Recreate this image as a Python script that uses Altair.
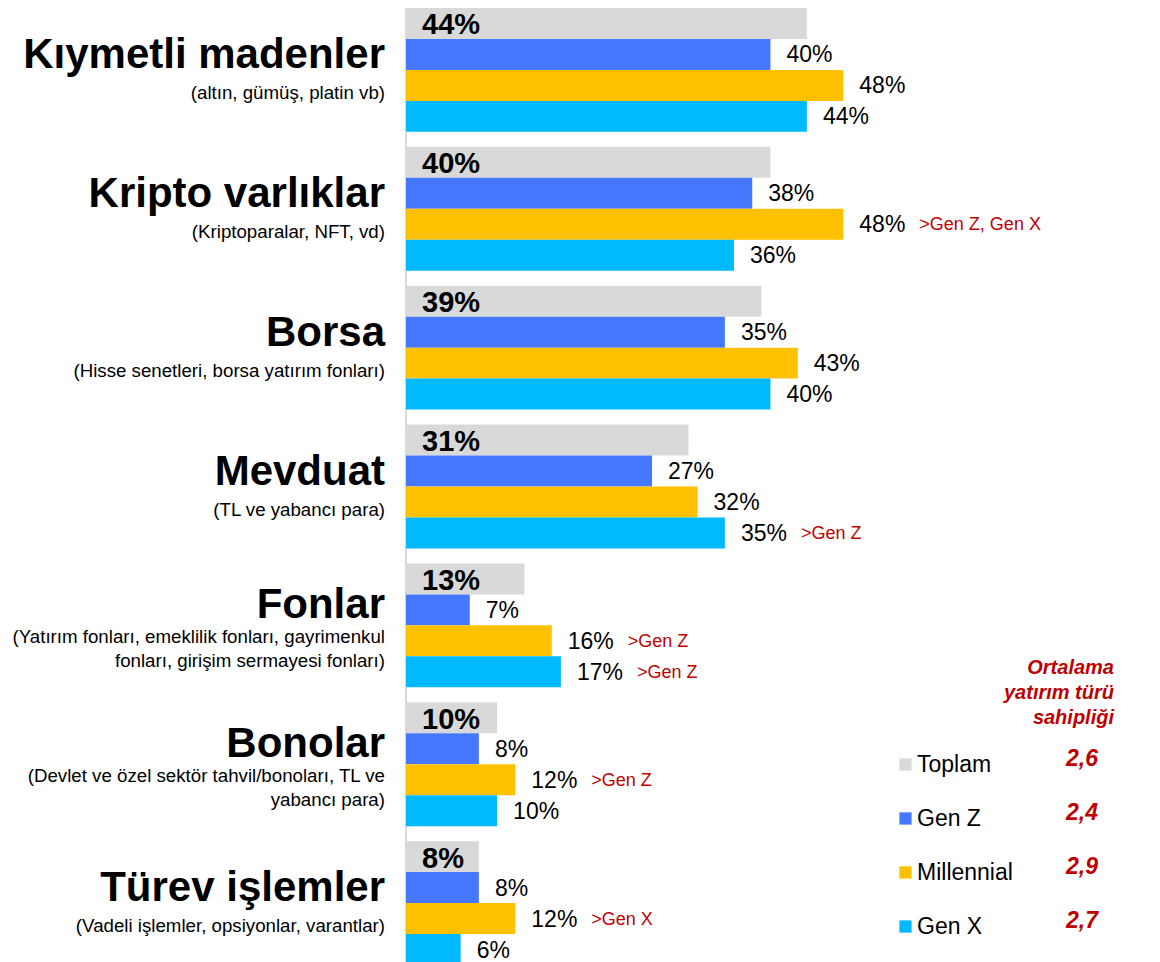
import altair as alt
import pandas as pd

# ---------------- data ----------------
categories = ["Kıymetli madenler", "Kripto varlıklar", "Borsa", "Mevduat",
              "Fonlar", "Bonolar", "Türev işlemler"]
subtitles = ["(altın, gümüş, platin vb)",
             "(Kriptoparalar, NFT, vd)",
             "(Hisse senetleri, borsa yatırım fonları)",
             "(TL ve yabancı para)",
             "(Yatırım fonları, emeklilik fonları, gayrimenkul\nfonları, girişim sermayesi fonları)",
             "(Devlet ve özel sektör tahvil/bonoları, TL ve\nyabancı para)",
             "(Vadeli işlemler, opsiyonlar, varantlar)"]
series = ["Toplam", "Gen Z", "Millennial", "Gen X"]
colors = ["#D9D9D9", "#4677FF", "#FFC000", "#00B9FF"]
toplam = [44, 40, 39, 31, 13, 10, 8]
gen_z = [40, 38, 35, 27, 7, 8, 8]
millennial = [48, 48, 43, 32, 16, 12, 12]
gen_x = [44, 36, 40, 35, 17, 10, 6]
note_category = ["Kripto varlıklar", "Mevduat", "Fonlar", "Fonlar", "Bonolar", "Türev işlemler"]
note_series = ["Millennial", "Gen X", "Millennial", "Gen X", "Millennial", "Millennial"]
note_text = [">Gen Z, Gen X", ">Gen Z", ">Gen Z", ">Gen Z", ">Gen Z", ">Gen X"]
averages = [2.6, 2.4, 2.9, 2.7]
avg_title = "Ortalama\nyatırım türü\nsahipliği"

FONT = "Liberation Sans"
RED = "#C00000"

# ---------------- tables ----------------
vals = {"Toplam": toplam, "Gen Z": gen_z, "Millennial": millennial, "Gen X": gen_x}
rows = []
for i, c in enumerate(categories):
    for k, s in enumerate(series):
        rows.append({"category": c, "series": s, "value": vals[s][i], "avg_key": str(k)})
df = pd.DataFrame(rows)

notes = pd.DataFrame({"category": note_category, "series": note_series, "note": note_text})
notes = notes.merge(df, on=["category", "series"], how="left")

labels = pd.DataFrame({"category": categories, "subtitle": subtitles})
labels["nsub"] = labels["subtitle"].str.count("\n") + 1

avg_strings = [("%.1f" % a).replace(".", ",") for a in averages]
avg_expr = " : ".join("datum.label == '%d' ? '%s'" % (k, v)
                      for k, v in enumerate(avg_strings)) + " : ''"

# ---------------- encodings ----------------
y_enc = alt.Y("category:N",
              scale=alt.Scale(domain=categories, range=[0, 957],
                              paddingInner=0.108, paddingOuter=0),
              axis=None)
yoff = alt.YOffset("series:N",
                   scale=alt.Scale(domain=series, paddingInner=0, paddingOuter=0))
x_enc = alt.X("value:Q", scale=alt.Scale(domain=[0, 81]), axis=None)
x_zero = alt.X("zero:Q", scale=alt.Scale(domain=[0, 81]), axis=None)
color = alt.Color(
    "series:N", scale=alt.Scale(domain=series, range=colors),
    legend=alt.Legend(
        orient="none", legendX=488, legendY=745, title=None, direction="vertical",
        symbolType="square", symbolSize=150, symbolStrokeWidth=0, symbolOpacity=1,
        labelFontSize=23, labelFont=FONT, labelColor="black", labelOffset=0,
        rowPadding=30, padding=0,
    ),
)
avg_legend = alt.Opacity(
    "avg_key:N", scale=alt.Scale(range=[1, 1, 1, 1]),
    legend=alt.Legend(
        orient="none", legendX=637, legendY=739, title=None, direction="vertical",
        symbolType="square", symbolSize=150, symbolStrokeWidth=0,
        symbolFillColor="transparent", symbolStrokeColor="transparent", symbolOpacity=0,
        labelFontSize=23, labelFont=FONT, labelColor=RED, labelFontWeight="bold",
        labelFontStyle="italic", labelOffset=0, rowPadding=30, padding=0,
        labelExpr=avg_expr,
    ),
)

base = alt.Chart(df).transform_calculate(label="datum.value + '%'", zero="0")

axis_line = base.mark_rule(color="#D9D9D9", strokeWidth=2).encode(x=x_zero)

bars = base.mark_bar().encode(x=x_enc, y=y_enc, yOffset=yoff, color=color, opacity=avg_legend)

toplam_labels = base.transform_filter("datum.series == 'Toplam'").mark_text(
    align="left", baseline="middle", dx=16, dy=2, fontSize=29, fontWeight="bold",
    font=FONT, color="black"
).encode(x=x_zero, y=y_enc, yOffset=yoff, text="label:N")

value_labels = base.transform_filter("datum.series != 'Toplam'").mark_text(
    align="left", baseline="middle", dx=16, dy=1, fontSize=23, font=FONT, color="black"
).encode(x=x_enc, y=y_enc, yOffset=yoff, text="label:N")

note_labels = alt.Chart(notes).mark_text(
    align="left", baseline="middle", dx=76, dy=1, fontSize=18, font=FONT, color=RED
).encode(x=x_enc, y=y_enc, yOffset=yoff, text="note:N")

text_layers = []
for n, tdy, sdy in [(1, -2, 29), (2, -7, 18)]:
    lab = alt.Chart(labels).transform_filter(f"datum.nsub == {n}")
    text_layers.append(lab.mark_text(
        align="right", baseline="alphabetic", dy=tdy, fontSize=42, fontWeight="bold",
        font=FONT, color="black"
    ).encode(x=alt.value(-21), y=y_enc, text="category:N"))
    text_layers.append(lab.mark_text(
        align="right", baseline="alphabetic", dy=sdy, fontSize=18.7, font=FONT,
        color="black", lineBreak="\n", lineHeight=24
    ).encode(x=alt.value(-21), y=y_enc, text="subtitle:N"))

heading = alt.Chart(pd.DataFrame({"t": [avg_title]})).mark_text(
    align="right", baseline="alphabetic", fontSize=20, fontWeight="bold",
    fontStyle="italic", font=FONT, color=RED, lineBreak="\n", lineHeight=25
).encode(x=alt.value(708), y=alt.value(666), text="t:N")

chart = alt.layer(axis_line, bars, toplam_labels, value_labels, note_labels,
                  *text_layers, heading).properties(
    width=738, height=954,
    padding={"left": 398, "top": 0, "right": 0, "bottom": 0},
    autosize=alt.AutoSizeParams(type="none"),
    background="white",
).configure_view(stroke=None)

chart.save("out.html", embed_options={"renderer": "svg", "actions": False})
